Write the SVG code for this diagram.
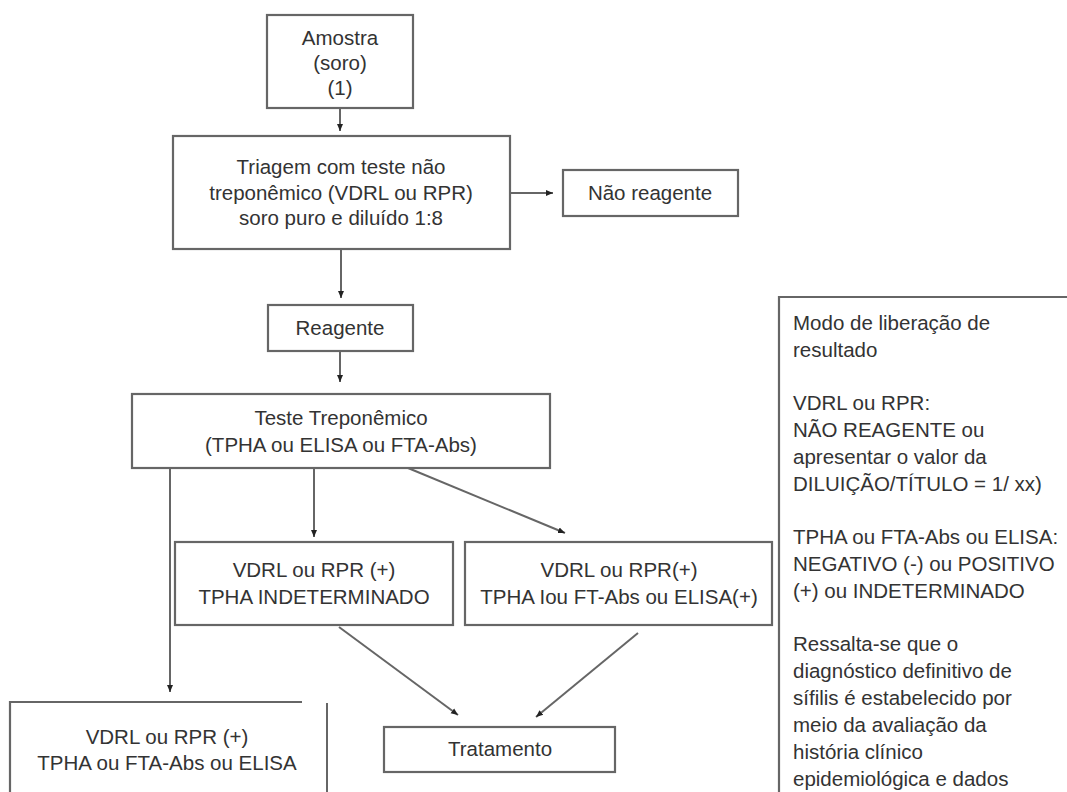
<svg xmlns="http://www.w3.org/2000/svg" width="1067" height="792" viewBox="0 0 1067 792">
<style>
.box{fill:#fff;stroke:#666;stroke-width:2.2}
.edge{fill:none;stroke:#666;stroke-width:2}
text{font-family:"Liberation Sans",Arial,sans-serif;font-size:20.5px;fill:#333}
.c{text-anchor:middle}
</style>
<defs>
<marker id="ah" markerWidth="8" markerHeight="8" refX="7" refY="4" orient="auto" markerUnits="userSpaceOnUse">
<path d="M0,1 L7,4 L0,7 Z" fill="#222"/>
</marker>
</defs>
<rect width="1067" height="792" fill="#fff"/>
<g id="connectors">
<line class="edge" x1="340" y1="108" x2="340" y2="131" marker-end="url(#ah)"/>
<line class="edge" x1="510" y1="193" x2="553" y2="193" marker-end="url(#ah)"/>
<line class="edge" x1="341" y1="249" x2="341" y2="298" marker-end="url(#ah)"/>
<line class="edge" x1="340" y1="351" x2="340" y2="382" marker-end="url(#ah)"/>
<line class="edge" x1="170" y1="468" x2="170" y2="692" marker-end="url(#ah)"/>
<line class="edge" x1="314" y1="468" x2="314" y2="537" marker-end="url(#ah)"/>
<line class="edge" x1="408" y1="468" x2="565" y2="533" marker-end="url(#ah)"/>
<line class="edge" x1="339" y1="627" x2="458" y2="715" marker-end="url(#ah)"/>
<line class="edge" x1="638" y1="633" x2="536" y2="717" marker-end="url(#ah)"/>
</g>
<g id="amostra">
<rect class="box" x="267" y="15" width="146" height="93"/>
<text class="c" x="340" y="45">Amostra</text>
<text class="c" x="340" y="70">(soro)</text>
<text class="c" x="340" y="95">(1)</text>
</g>
<g id="triagem">
<rect class="box" x="173" y="136" width="337" height="113"/>
<text class="c" x="341" y="174">Triagem com teste não</text>
<text class="c" x="341" y="200">treponêmico (VDRL ou RPR)</text>
<text class="c" x="341" y="225">soro puro e diluído 1:8</text>
</g>
<g id="nao-reagente">
<rect class="box" x="563" y="170" width="175" height="46"/>
<text class="c" x="650" y="200">Não reagente</text>
</g>
<g id="reagente">
<rect class="box" x="268" y="305" width="145" height="46"/>
<text class="c" x="340" y="335">Reagente</text>
</g>
<g id="teste-treponemico">
<rect class="box" x="132" y="394" width="418" height="74"/>
<text class="c" x="341" y="425">Teste Treponêmico</text>
<text class="c" x="341" y="452">(TPHA ou ELISA ou FTA-Abs)</text>
</g>
<g id="indeterminado">
<rect class="box" x="175" y="542" width="278" height="83"/>
<text class="c" x="314" y="577">VDRL ou RPR (+)</text>
<text class="c" x="314" y="604">TPHA INDETERMINADO</text>
</g>
<g id="positivo">
<rect class="box" x="465" y="542" width="307" height="83"/>
<text class="c" x="619" y="577">VDRL ou RPR(+)</text>
<text class="c" x="619" y="604">TPHA Iou FT-Abs ou ELISA(+)</text>
</g>
<g id="tratamento">
<rect class="box" x="384" y="727" width="231" height="45"/>
<text class="c" x="500" y="756">Tratamento</text>
</g>
<g id="bottom-left">
<path class="box" d="M10,793 V702 H302" fill="none"/>
<path class="edge" d="M327,703 V793" stroke-width="2.2"/>
<text class="c" x="167" y="744">VDRL ou RPR (+)</text>
<text class="c" x="167" y="770">TPHA ou FTA-Abs ou ELISA</text>
</g>
<g id="legenda">
<path class="box" d="M779,793 V297 H1068"/>
<text x="793" y="330">Modo de liberação de</text>
<text x="793" y="357">resultado</text>
<text x="793" y="410">VDRL ou RPR:</text>
<text x="793" y="437">NÃO REAGENTE ou</text>
<text x="793" y="464">apresentar o valor da</text>
<text x="793" y="491">DILUIÇÃO/TÍTULO = 1/ xx)</text>
<text x="793" y="544">TPHA ou FTA-Abs ou ELISA:</text>
<text x="793" y="571">NEGATIVO (-) ou POSITIVO</text>
<text x="793" y="598">(+) ou INDETERMINADO</text>
<text x="793" y="651">Ressalta-se que o</text>
<text x="793" y="678">diagnóstico definitivo de</text>
<text x="793" y="705">sífilis é estabelecido por</text>
<text x="793" y="732">meio da avaliação da</text>
<text x="793" y="759">história clínico</text>
<text x="793" y="786">epidemiológica e dados</text>
</g>
</svg>
